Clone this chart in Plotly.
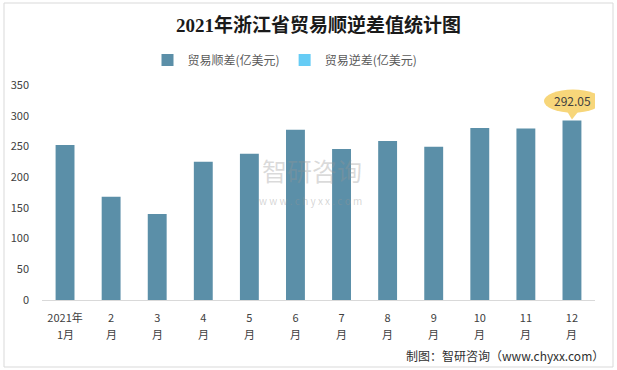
import plotly.graph_objects as go

month_top = ["2021年", "2", "3", "4", "5", "6", "7", "8", "9", "10", "11", "12"]
month_bottom = ["1月", "月", "月", "月", "月", "月", "月", "月", "月", "月", "月", "月"]
surplus = [252.5, 168, 140, 225, 238, 277, 246, 259, 249.5, 280, 279, 292.05]
deficit = [None] * 12
y_ticks = [0, 50, 100, 150, 200, 250, 300, 350]

title_text = "2021年浙江省贸易顺逆差值统计图"
name_surplus = "贸易顺差(亿美元)"
name_deficit = "贸易逆差(亿美元)"
source_text = "制图：智研咨询（www.chyxx.com）"

C_SURPLUS = "#5B8FA8"
C_DEFICIT = "#66CCF5"
FONT = "Noto Sans CJK SC, Liberation Sans, sans-serif"
W, H = 617, 370
ML, MR, MT, MB = 42, 22, 85, 70
PW, PH = W - ML - MR, H - MT - MB

def px_x(p):
    return (p - ML) / PW

def px_y(p):
    return (H - MB - p) / PH

fig = go.Figure()
fig.add_trace(go.Bar(x=month_top, y=surplus, name=name_surplus, marker_color=C_SURPLUS,
                     marker_line_width=0))
fig.add_trace(go.Bar(x=month_top, y=deficit, name=name_deficit, marker_color=C_DEFICIT,
                     marker_line_width=0))

# second line of category labels (positioned by category index)
for i, lab in enumerate(month_bottom):
    fig.add_annotation(x=i, y=0, yref="y", text=lab, showarrow=False, yanchor="top",
                       yshift=-24, font=dict(size=11, color="#404040", family=FONT))

last_i = len(surplus) - 1
last_y = surplus[last_i]

# callout bubble
fig.add_shape(type="circle", xref="x", yref="y", xsizemode="pixel", ysizemode="pixel",
              xanchor=last_i, yanchor=last_y, x0=-28, x1=30, y0=8, y1=31,
              fillcolor="#F7D67A", line_width=0, layer="above")
fig.add_shape(type="path", xref="x", yref="y", xsizemode="pixel", ysizemode="pixel",
              xanchor=last_i, yanchor=last_y, path="M -6 11 L 0 1 L 8 11 Z",
              fillcolor="#F7D67A", line_width=0, layer="above")
fig.add_annotation(x=last_i, y=last_y, text=f"{last_y:.2f}", showarrow=False,
                   yshift=20, xshift=1, font=dict(size=12, color="#404040", family=FONT))

# watermark
fig.add_annotation(xref="paper", yref="paper", x=px_x(312), y=px_y(190), yanchor="bottom",
                   text="智研咨询", showarrow=False,
                   font=dict(size=25, color="rgba(150,150,150,0.35)", family=FONT))
fig.add_annotation(xref="paper", yref="paper", x=px_x(310), y=px_y(191), yanchor="top",
                   text="w w w . c h y x x . c o m", showarrow=False,
                   font=dict(size=10, color="rgba(150,150,150,0.4)", family=FONT))

# source
fig.add_annotation(xref="paper", yref="paper", x=px_x(606), y=px_y(355), xanchor="right",
                   yanchor="middle", text=source_text, showarrow=False,
                   font=dict(size=12, color="#303030", family=FONT))

# outer border
fig.add_shape(type="rect", xref="paper", yref="paper", x0=px_x(4), x1=px_x(613),
              y0=px_y(367), y1=px_y(3), line=dict(color="#D9D9D9", width=1), layer="below")

fig.update_layout(
    width=W, height=H,
    margin=dict(l=ML, r=MR, t=MT, b=MB, autoexpand=False),
    paper_bgcolor="white", plot_bgcolor="white",
    title=dict(text="<b>" + title_text + "</b>", x=0.5, xref="paper", y=1 - 25 / H,
               yanchor="middle",
               font=dict(size=19, color="#1a1a1a", family="Liberation Serif, Noto Sans CJK SC, serif")),
    barmode="overlay", bargap=0.59,
    showlegend=True,
    legend=dict(orientation="h", x=px_x(285), xanchor="center", y=px_y(60), yanchor="middle",
                font=dict(size=12, color="#595959", family=FONT), itemwidth=30,
                traceorder="normal"),
    font=dict(family=FONT, size=11, color="#595959"),
)
fig.update_xaxes(type="category", range=[-0.5, len(month_top) - 0.5], showline=True,
                 linecolor="#D9D9D9", linewidth=1, ticks="",
                 automargin=False, tickfont=dict(size=11, color="#404040"), showgrid=False,
                 ticklabelstandoff=8)
fig.update_yaxes(range=[0, 350], tickvals=y_ticks, showgrid=False, zeroline=False,
                 showline=False, ticks="", ticklabelstandoff=12, automargin=False,
                 tickfont=dict(size=11, color="#404040"))

fig.write_html("out.html", config={"displayModeBar": False},
               post_script="document.body.style.margin='0';document.body.style.overflow='hidden';")
